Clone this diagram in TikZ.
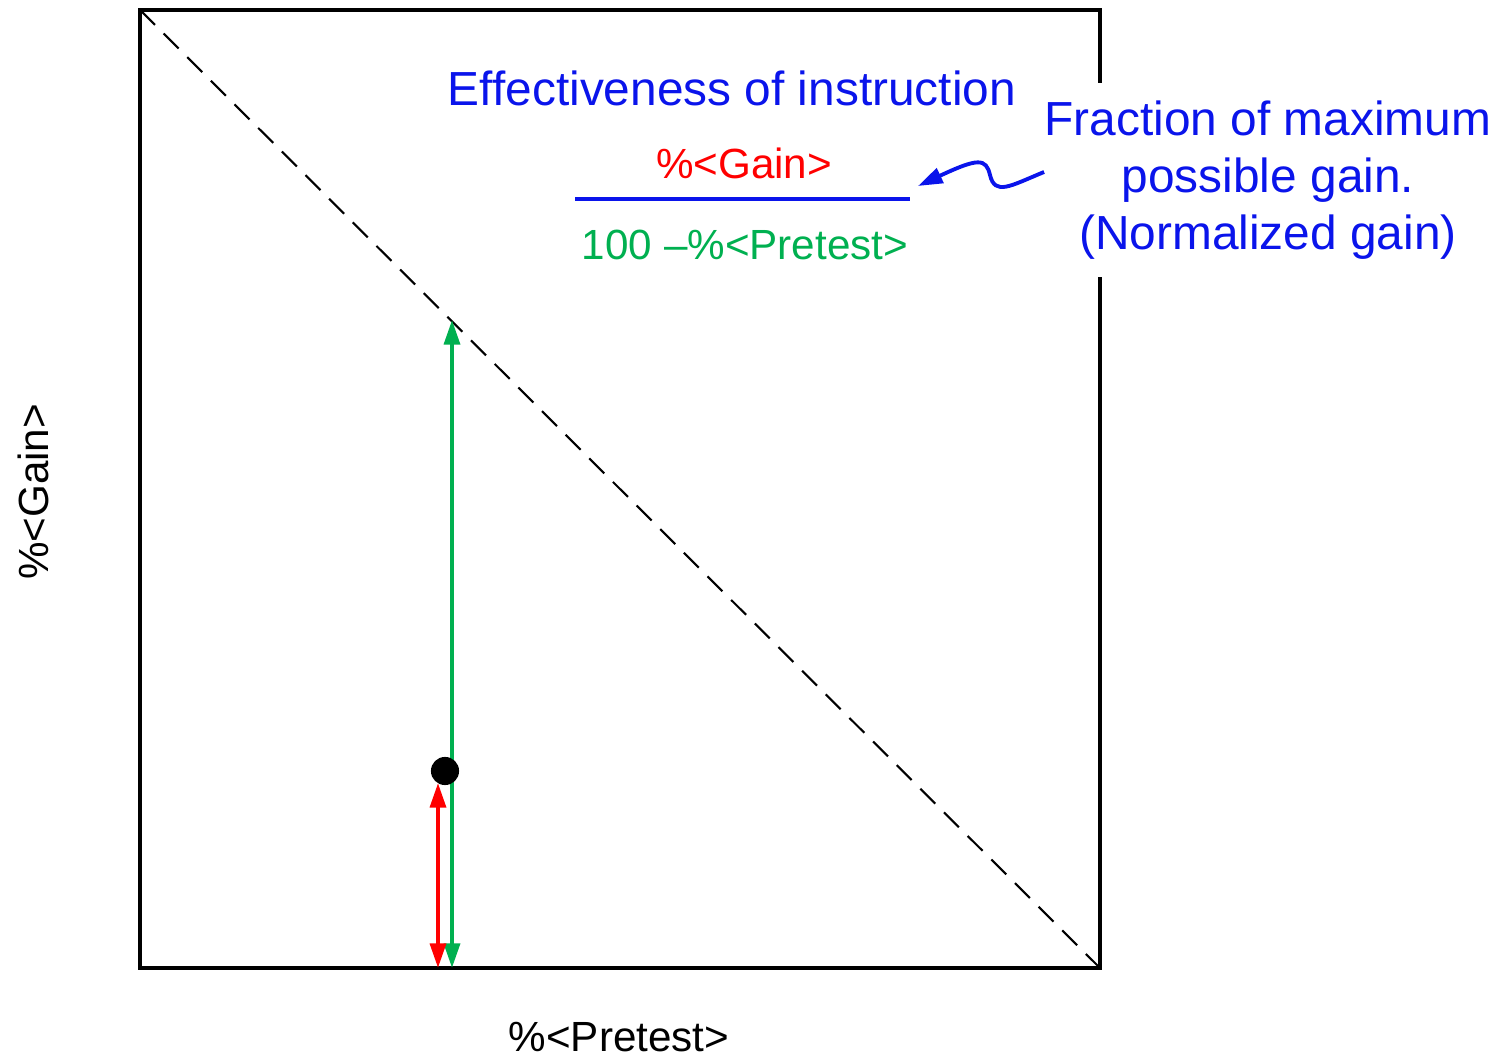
\documentclass[tikz,border=0pt]{standalone}
\usepackage{fontspec}
\setmainfont{Liberation Sans}
\usepackage{xcolor}
\usetikzlibrary{arrows.meta,positioning,calc}

\definecolor{pgreen}{RGB}{0,176,80}
\definecolor{pblue}{RGB}{10,20,235}
\definecolor{pred}{RGB}{255,0,0}

\begin{document}
\begin{tikzpicture}[x=0.01cm,y=-0.01cm,
  frame/.style={draw=black,line width=1.15pt},
  diagline/.style={draw=black,line width=0.6pt,dash pattern=on 6pt off 3.5pt},
  bluetext/.style={text=pblue,font=\fontsize{13.6}{16.2}\selectfont,align=center,inner sep=0pt},
  axislabel/.style={text=black,font=\fontsize{12}{14}\selectfont,inner sep=0pt},
  fractext/.style={font=\fontsize{12}{14}\selectfont,inner sep=0pt},
  gainarrow/.style={draw=pred,line width=1.1pt,{Triangle[length=7pt,width=4.5pt]}-{Triangle[length=7pt,width=4.5pt]}},
  maxarrow/.style={draw=pgreen,line width=1.1pt,{Triangle[length=7pt,width=4.5pt]}-{Triangle[length=7pt,width=4.5pt]}},
  dot/.style={circle,fill=black,inner sep=0pt,minimum size=8pt}
]
\useasboundingbox (0,0) rectangle (1511,1058);

% plot frame and diagonal
\coordinate (tl) at (140,10);
\coordinate (br) at (1100,968);
\draw[frame] (tl) rectangle (br);
\draw[diagline] (tl) -- (br);

% axis labels
\node[axislabel] (xlab) at (619,1037) {\%<Pretest>};
\node[axislabel,rotate=90] (ylab) at (33,492) {\%<Gain>};

% normalized gain fraction
\node[bluetext] (title) at (732,88) {Effectiveness of instruction};
\node[fractext,text=pred] (num) at (744,163) {\%<Gain>};
\node[fractext,text=pgreen] (den) at (745,245) {100 \textendash\%<Pretest>};
\coordinate (barl) at (575,199);
\coordinate (barr) at (910,199);
\draw[pblue,line width=0.9pt] (barl) -- (barr);

\node[bluetext,fill=white,inner xsep=3pt,inner ysep=5pt] (note) at (1268,180)
  {Fraction of maximum\\possible gain.\\(Normalized gain)};
\coordinate (tip) at (918,186);
\draw[pblue,line width=1.1pt,-{Triangle[length=7pt,width=4.5pt]}]
  ($(note.west)+(3pt,-8)$) .. controls (1010,186) and (995,196) .. (990,175)
  .. controls (986,158) and (978,158) .. (tip);

% student point and arrows
\coordinate (gbot) at (452,968);
\coordinate (gtop) at (452,320);
\coordinate (rbot) at (438,968);
\coordinate (rtop) at (438,783);
\draw[maxarrow] (gbot) -- (gtop);
\node[dot] (student) at (445,771) {};
\draw[gainarrow] (rbot) -- (rtop);
\end{tikzpicture}
\end{document}
